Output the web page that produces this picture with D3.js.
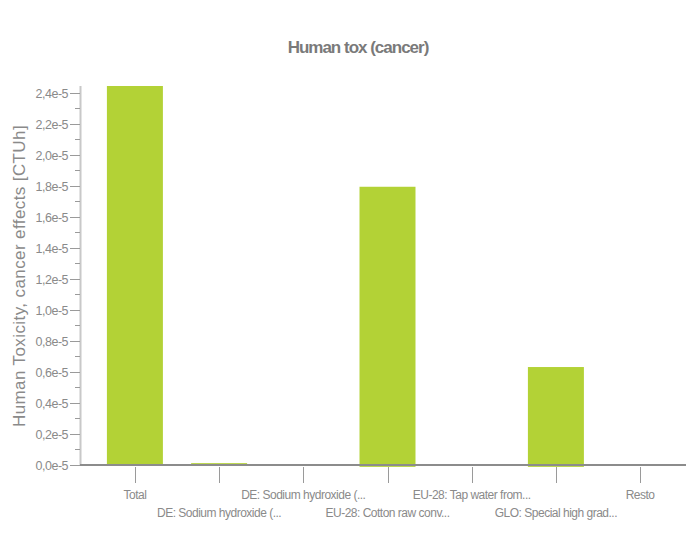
<!DOCTYPE html>
<html>
<head>
<meta charset="utf-8">
<script src="https://cdn.jsdelivr.net/npm/d3@7"></script>
<style>
  body { margin: 0; background: #fff; }
  svg { display: block; }
</style>
</head>
<body>
<svg id="chart" width="686" height="534"></svg>
<script>
const categories = [
  "Total",
  "DE: Sodium hydroxide (...",
  "DE: Sodium hydroxide (...",
  "EU-28: Cotton raw conv...",
  "EU-28: Tap water from...",
  "GLO: Special high grad...",
  "Resto"
];
const positiveValues = [2.445e-5, 1.2e-7, 0, 1.795e-5, 0, 0.632e-5, 0.3e-7];
const negativeValues = [0, 0, 0, -1.2e-7, 0, -1.2e-7, 0];
const yTicks = [0, 0.2e-5, 0.4e-5, 0.6e-5, 0.8e-5, 1.0e-5, 1.2e-5, 1.4e-5, 1.6e-5, 1.8e-5, 2.0e-5, 2.2e-5, 2.4e-5];
const yMinorTicks = [0.1e-5, 0.3e-5, 0.5e-5, 0.7e-5, 0.9e-5, 1.1e-5, 1.3e-5, 1.5e-5, 1.7e-5, 1.9e-5, 2.1e-5, 2.3e-5];
const title = "Human tox (cancer)";
const yTitle = "Human Toxicity, cancer effects [CTUh]";

const svg = d3.select("#chart");
const green = "#b3d236";
const textGrey = "#8a8a8a";

const x = d3.scaleBand().domain(d3.range(categories.length))
  .range([92.8, 682.2]).paddingInner(0.335).paddingOuter(0.1675);
const y = d3.scaleLinear().domain([0, d3.max(positiveValues)]).range([465, 86]);

// title
svg.append("text").attr("x", 358).attr("y", 53).attr("text-anchor", "middle")
  .attr("font-family", "Liberation Sans, Arial, sans-serif").attr("font-size", 17)
  .attr("font-weight", "bold").attr("letter-spacing", -1).attr("fill", "#7a7a7a")
  .text(title);

// y title
svg.append("text").attr("transform", "translate(25,276) rotate(-90)")
  .attr("text-anchor", "middle")
  .attr("font-family", "Liberation Sans, Arial, sans-serif").attr("font-size", 17)
  .attr("letter-spacing", 0.4).attr("fill", textGrey)
  .text(yTitle);

// bars
svg.append("g").selectAll("rect.pos").data(positiveValues).join("rect")
  .attr("x", (d, i) => x(i)).attr("width", x.bandwidth())
  .attr("y", d => y(d)).attr("height", d => y(0) - y(d))
  .attr("fill", green);
svg.append("g").selectAll("rect.neg").data(negativeValues).join("rect")
  .attr("x", (d, i) => x(i)).attr("width", x.bandwidth())
  .attr("y", y(0)).attr("height", d => y(d) - y(0))
  .attr("fill", green);

// y axis
const fmt = v => d3.format(".1f")(v * 1e5).replace(".", ",") + "e-5";
const yAxis = svg.append("g").attr("transform", "translate(80,0)");
yAxis.append("line").attr("x1", 0.5).attr("x2", 0.5).attr("y1", y.range()[1]).attr("y2", y(0))
  .attr("stroke", "#c8c8c8").attr("stroke-width", 2);
yAxis.selectAll("line.major").data(yTicks).join("line")
  .attr("x1", -10).attr("x2", 0).attr("y1", d => Math.round(y(d)) + 0.5).attr("y2", d => Math.round(y(d)) + 0.5)
  .attr("stroke", "#9a9a9a");
yAxis.selectAll("line.minor").data(yMinorTicks).join("line")
  .attr("x1", -5).attr("x2", 0).attr("y1", d => Math.round(y(d)) + 0.5).attr("y2", d => Math.round(y(d)) + 0.5)
  .attr("stroke", "#9a9a9a");
yAxis.selectAll("text").data(yTicks).join("text")
  .attr("x", -12).attr("y", d => y(d)).attr("dy", "0.4em").attr("text-anchor", "end")
  .attr("font-family", "Liberation Sans, Arial, sans-serif").attr("font-size", 12.5)
  .attr("letter-spacing", -0.5).attr("fill", textGrey)
  .text(fmt);

// x axis
const xAxis = svg.append("g");
xAxis.append("line").attr("x1", 80).attr("x2", 686).attr("y1", y(0)).attr("y2", y(0))
  .attr("stroke", "#8c8c8c").attr("stroke-width", 2);
xAxis.selectAll("line.tick").data(categories).join("line")
  .attr("x1", (d, i) => Math.round(x(i) + x.bandwidth() / 2) + 0.5)
  .attr("x2", (d, i) => Math.round(x(i) + x.bandwidth() / 2) + 0.5)
  .attr("y1", 467).attr("y2", 483).attr("stroke", "#9a9a9a");
xAxis.selectAll("text").data(categories).join("text")
  .attr("x", (d, i) => x(i) + x.bandwidth() / 2)
  .attr("y", (d, i) => i % 2 === 0 ? 499 : 517)
  .attr("text-anchor", "middle")
  .attr("font-family", "Liberation Sans, Arial, sans-serif").attr("font-size", 12)
  .attr("letter-spacing", -0.5).attr("fill", textGrey)
  .text(d => d);
</script>
</body>
</html>
